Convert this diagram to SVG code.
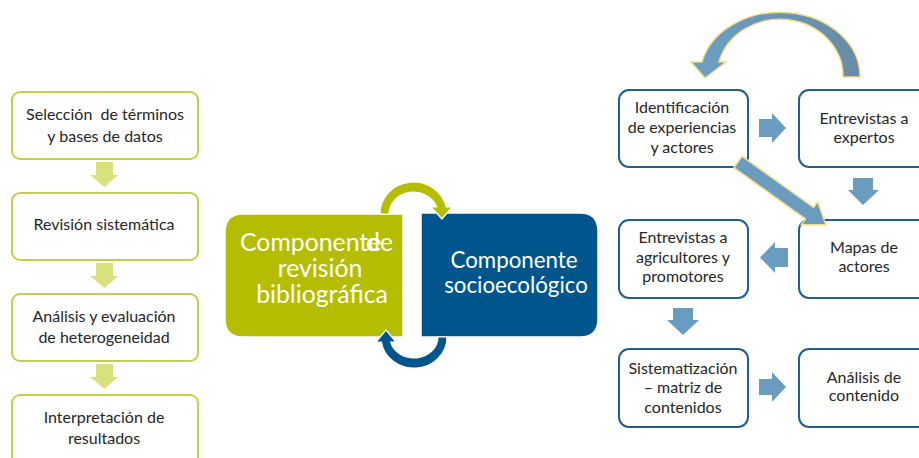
<svg xmlns="http://www.w3.org/2000/svg" width="919" height="458" viewBox="0 0 919 458">
<style>
.lb{fill:#fff;stroke:#c6cd4b;stroke-width:2}
.rb{fill:#fff;stroke:#215f8e;stroke-width:2}
.t{font-family:Lato,"Open Sans",sans-serif;font-size:16px;fill:#262626;text-anchor:middle}
.ct{font-family:Lato,"Open Sans",sans-serif;font-size:24.8px;fill:#fff}
.cb{font-family:Lato,"Open Sans",sans-serif;font-size:22.3px;fill:#fff;text-anchor:middle}
.ga{fill:#d9e07c}
.ba{fill:#6a9cc0}
.yo{stroke:#f5dc8c;stroke-width:1.5}
</style>
<defs>
<linearGradient id="cg" x1="0" y1="0" x2="1" y2="0">
<stop offset="0" stop-color="#6aa0c6"/>
<stop offset="1" stop-color="#698ca6"/>
</linearGradient>
</defs>
<g id="left-flow">
<g id="n-seleccion"><rect class="lb" x="12" y="92" width="186" height="67" rx="8"/>
<text class="t" x="105" y="120" style="white-space:pre">Selección  de términos</text><text class="t" x="105" y="142">y bases de datos</text></g>
<g id="n-revision"><rect class="lb" x="12" y="193" width="186" height="67" rx="8"/>
<text class="t" x="104" y="230">Revisión sistemática</text></g>
<g id="n-analisis"><rect class="lb" x="12" y="294" width="186" height="67" rx="8"/>
<text class="t" x="104" y="322">Análisis y evaluación</text><text class="t" x="104" y="343">de heterogeneidad</text></g>
<g id="n-interpretacion"><rect class="lb" x="12" y="395" width="186" height="75" rx="8"/>
<text class="t" x="104" y="423">Interpretación de</text><text class="t" x="104" y="444">resultados</text></g>
</g>
<g id="center">
<g id="n-revbib"><path d="M403 214 L243 214 Q225 214 225 232 L225 319 Q225 337 243 337 L403 337 Z" fill="#b5bd00" stroke="#fff" stroke-width="1.5"/>
<text class="ct" x="240" y="251">Componente</text><text class="ct" x="366" y="251">de</text>
<text class="ct" x="320" y="277" text-anchor="middle">revisión</text>
<text class="ct" x="322" y="303" text-anchor="middle">bibliográfica</text></g>
<g id="n-socio"><path d="M421 213 L580 213 Q598 213 598 231 L598 319 Q598 337 580 337 L421 337 Z" fill="#00568c" stroke="#fff" stroke-width="1.5"/>
<text class="cb" x="514" y="268">Componente</text>
<text class="cb" x="516" y="293">socioecológico</text></g>
</g>
<g id="right-flow">
<g id="n-identificacion"><rect class="rb" x="619" y="90" width="129" height="77" rx="10"/>
<text class="t" x="682" y="113">Identificación</text><text class="t" x="682" y="133">de experiencias</text><text class="t" x="682" y="153">y actores</text></g>
<g id="n-expertos"><rect class="rb" x="799" y="90" width="135" height="77" rx="10"/>
<text class="t" x="864" y="124">Entrevistas a</text><text class="t" x="864" y="143">expertos</text></g>
<g id="n-agricultores"><rect class="rb" x="619" y="220" width="129" height="78" rx="10"/>
<text class="t" x="683" y="243">Entrevistas a</text><text class="t" x="683" y="263">agricultores y</text><text class="t" x="683" y="282">promotores</text></g>
<g id="n-mapas"><rect class="rb" x="799" y="220" width="135" height="78" rx="10"/>
<text class="t" x="864" y="253">Mapas de</text><text class="t" x="864" y="272">actores</text></g>
<g id="n-sistematizacion"><rect class="rb" x="619" y="349" width="129" height="78" rx="10"/>
<text class="t" x="683" y="374">Sistematización</text><text class="t" x="683" y="393">– matriz de</text><text class="t" x="683" y="413">contenidos</text></g>
<g id="n-contenido"><rect class="rb" x="799" y="349" width="135" height="78" rx="10"/>
<text class="t" x="864" y="383">Análisis de</text><text class="t" x="864" y="401">contenido</text></g>
</g>
<g id="connectors">
<path class="ga" d="M96 162 H113 V175 H118 L104.5 187 L90 175 H96 Z"/>
<path class="ga" d="M96 263 H113 V276 H118 L104.5 288 L90 276 H96 Z"/>
<path class="ga" d="M96 364 H113 V377 H118 L104.5 389 L90 377 H96 Z"/>
<path d="M380 214 A33.5 32 0 0 1 446.2 207 L452 207 L442 219 L431 207 L436.7 207 A24.5 22 0 0 0 389 214 Z" fill="#b5bd00" stroke="#fff" stroke-width="1.2"/>
<path d="M447 337 A33 31 0 0 1 381.4 342 L376 342 L386 330 L396 342 L390.7 342 A24 21 0 0 0 438 337 Z" fill="#00568c" stroke="#fff" stroke-width="1.2"/>
<path class="ba" d="M759 119 H772 V113 L786 128 L772 143 V137 H759 Z"/>
<path class="ba" d="M853 178 H873 V190 H879 L863 205 L848 190 H853 Z"/>
<path class="ba" d="M788 248 H775 V242 L760 257.5 L775 273 V267 H788 Z"/>
<path class="ba" d="M673 308 H693 V320 H699 L683 335 L667 320 H673 Z"/>
<path class="ba" d="M759 379 H772 V372 L786 387 L772 402 V395 H759 Z"/>
<path class="yo" fill="url(#cg)" d="M860 77 A80 64 0 0 0 702 62 L691 62 L705 78 L726 62 L719 62 A63 57 0 0 1 843 77 Z"/>
<path class="ba yo" transform="translate(738 162) rotate(35.6)" d="M0 -7 H88 V-14 L108 0 L88 14 V7 H0 Z"/>
</g>
</svg>
